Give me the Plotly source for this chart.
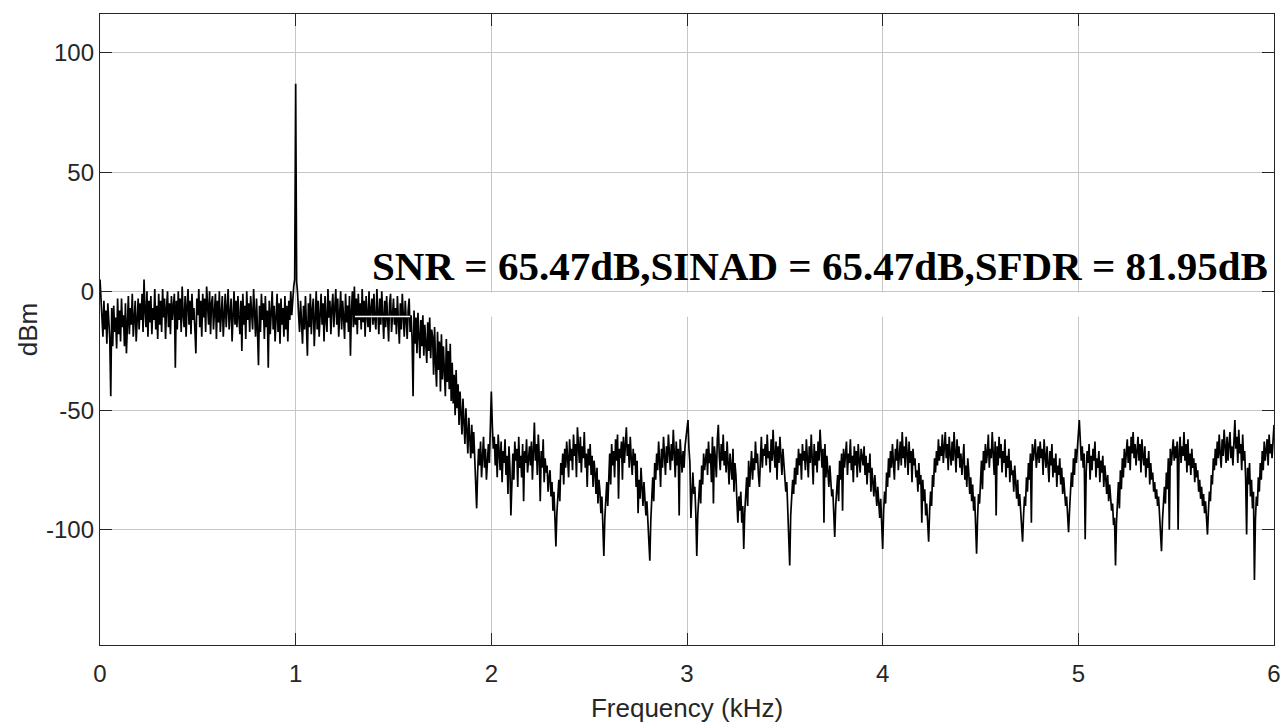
import plotly.graph_objects as go

# Each row holds the FFT bins of one 0.1 kHz band (5 Hz bins), starting at row_index * 0.1 kHz.
row_span_khz = 0.1

# 0.0 - 1.6 kHz : flat pass band with the 1 kHz test tone
passband_rows = [
    [5, -2, -12, -19, -4, -16, -8, -22, -5, -14, -20, -44, -7, -23, -6, -17, -11, -24, -3, -18],
    [-8, -21, -3, -15, -10, -23, -5, -26, -12, -2, -18, -7, -14, -1, -19, -9, -4, -21, -13, -3],
    [-16, -5, -12, -1, -17, 5, -8, -15, 0, -19, -4, -13, -2, -18, -7, -12, 1, -16, -6, -20],
    [-1, -14, -4, -17, 1, -11, -3, -20, -7, 0, -15, -5, -18, -2, -12, -8, -1, -32, -4, -16],
    [0, -12, -3, -17, 2, -10, -15, -2, -19, -6, 1, -14, -4, -18, -1, -12, -7, -16, -26, -3],
    [-10, 1, -15, -4, -19, -1, -11, -3, -17, 2, -7, -14, 0, -18, -5, -2, -16, -8, -1, -20],
    [-4, -13, 0, -17, -7, -2, -19, -9, -1, -15, -5, 1, -16, -8, -3, -21, -6, 0, -14, -4],
    [-15, -2, -11, -18, -4, -25, -1, -14, -6, -20, 0, -12, -5, -17, -2, -10, -16, 1, -11, -19],
    [-3, -14, -31, -6, -17, -1, -12, -5, -20, -2, -15, -8, -32, -4, -18, -9, 0, -16, -6, -21],
    [-12, -1, -17, -5, -22, -3, -14, -7, -19, -2, -16, -6, -21, -4, -12, 0, -10, -3, 2, 5],
    [87, 4, -1, -10, -17, -4, -14, -22, -6, -16, -2, -20, -27, -5, -15, -1, -18, -8, -3, -23],
    [-9, 0, -16, -4, -19, -8, -1, -14, -5, -21, -2, -12, -17, 1, -11, -4, -18, -7, -1, -15],
    [-6, 1, -14, -3, -19, -8, 0, -16, -4, -11, -20, -1, -13, -6, -17, -2, -27, -8, 0, -15],
    [2, -14, -3, -18, -1, -12, -5, -16, 1, -13, -4, -19, -2, -10, -15, 0, -17, -7, -3, -14],
    [-1, -12, -16, 1, -7, -18, -3, -14, 0, -10, -20, -4, -15, -2, -13, -21, -5, -1, -17, -9],
    [-3, -14, -7, -18, -2, -12, -22, -5, -16, -1, -11, -19, -4, -15, -20, -8, -3, -17, -10, -20],
]

# 1.6 - 2.0 kHz : filter roll-off
rolloff_rows = [
    [-44, -8, -22, -11, -26, -9, -19, -28, -12, -23, -10, -27, -14, -20, -30, -13, -25, -11, -28, -16],
    [-19, -35, -15, -30, -40, -17, -33, -21, -42, -18, -37, -23, -31, -44, -20, -38, -25, -41, -22, -46],
    [-30, -47, -35, -52, -33, -49, -39, -56, -42, -51, -60, -45, -54, -64, -49, -59, -68, -53, -62, -70],
    [-56, -68, -59, -71, -80, -91, -76, -66, -73, -63, -78, -68, -61, -74, -66, -79, -70, -64, -72, -55],
]

# 2.0 - 6.0 kHz : stop band with periodic nulls
stopband_rows = [
    [-42, -56, -66, -61, -73, -64, -78, -60, -70, -75, -63, -80, -67, -72, -62, -77, -69, -85, -65, -74],
    [-94, -76, -68, -79, -63, -71, -66, -82, -61, -74, -69, -78, -64, -88, -67, -72, -62, -76, -70, -65],
    [-73, -63, -79, -66, -55, -71, -64, -77, -60, -69, -88, -67, -74, -62, -80, -70, -76, -73, -84, -78],
    [-75, -86, -80, -92, -84, -95, -107, -93, -85, -79, -88, -72, -77, -68, -81, -66, -74, -63, -70, -78],
    [-62, -71, -66, -75, -60, -69, -64, -78, -57, -67, -72, -61, -76, -65, -70, -59, -74, -68, -82, -66],
    [-73, -64, -77, -69, -82, -71, -76, -85, -74, -89, -79, -84, -93, -86, -98, -111, -95, -87, -80, -90],
    [-76, -68, -81, -64, -73, -67, -78, -62, -71, -60, -87, -66, -70, -63, -79, -61, -72, -65, -57, -69],
    [-64, -74, -61, -70, -77, -66, -73, -68, -82, -71, -93, -79, -87, -74, -83, -90, -80, -86, -94, -88],
    [-97, -102, -113, -96, -85, -78, -88, -72, -79, -68, -75, -63, -71, -82, -66, -74, -61, -70, -77, -65],
    [-72, -60, -69, -75, -64, -71, -58, -68, -78, -63, -73, -66, -94, -62, -70, -76, -67, -74, -65, -61],
    [-60, -54, -66, -72, -95, -80, -76, -85, -82, -93, -111, -94, -86, -79, -89, -73, -81, -68, -75, -70],
    [-66, -77, -63, -72, -68, -80, -61, -89, -65, -70, -78, -62, -56, -69, -75, -64, -71, -60, -73, -67],
    [-76, -63, -70, -81, -68, -74, -79, -66, -84, -72, -77, -88, -97, -86, -92, -84, -97, -90, -108, -93],
    [-86, -78, -90, -71, -82, -74, -67, -79, -70, -75, -63, -72, -68, -77, -82, -71, -61, -74, -66, -69],
    [-64, -73, -60, -70, -67, -76, -62, -71, -58, -68, -74, -63, -79, -65, -72, -61, -69, -77, -66, -73],
    [-78, -84, -80, -91, -96, -115, -94, -87, -79, -85, -74, -81, -70, -77, -66, -73, -68, -79, -64, -71],
    [-67, -75, -62, -70, -78, -65, -72, -60, -69, -81, -64, -73, -67, -76, -63, -71, -58, -68, -74, -66],
    [-97, -64, -78, -69, -75, -82, -73, -80, -86, -83, -92, -103, -90, -84, -77, -88, -71, -79, -68, -92],
    [-66, -74, -70, -63, -77, -68, -72, -62, -75, -69, -80, -65, -73, -67, -78, -64, -71, -76, -66, -70],
    [-73, -65, -77, -69, -81, -72, -76, -68, -84, -74, -79, -86, -77, -83, -90, -82, -88, -95, -87, -99],
    [-108, -92, -84, -89, -76, -82, -70, -78, -67, -74, -64, -72, -79, -66, -71, -62, -75, -69, -63, -73],
    [-59, -70, -65, -74, -61, -68, -77, -63, -72, -67, -80, -66, -73, -70, -78, -75, -84, -72, -81, -77],
    [-97, -79, -88, -83, -94, -89, -97, -105, -92, -84, -90, -77, -82, -70, -76, -67, -73, -62, -71, -65],
    [-69, -60, -72, -66, -59, -70, -64, -75, -61, -68, -73, -63, -71, -59, -67, -76, -62, -70, -65, -74],
    [-68, -77, -71, -64, -79, -73, -82, -70, -76, -85, -78, -88, -81, -92, -86, -96, -110, -95, -85, -89],
    [-78, -71, -83, -67, -75, -64, -72, -68, -60, -74, -66, -70, -59, -69, -77, -63, -94, -65, -73, -61],
    [-70, -64, -76, -67, -72, -62, -78, -69, -74, -66, -80, -71, -77, -75, -84, -73, -81, -87, -79, -90],
    [-85, -93, -98, -105, -94, -86, -90, -78, -84, -72, -79, -68, -97, -64, -71, -67, -62, -74, -69, -65],
    [-72, -63, -70, -66, -77, -62, -69, -74, -65, -71, -80, -67, -73, -64, -78, -70, -76, -68, -82, -73],
    [-77, -70, -81, -74, -85, -78, -83, -90, -86, -94, -101, -92, -84, -76, -82, -70, -77, -66, -72, -63],
    [-60, -54, -64, -71, -65, -74, -68, -104, -76, -67, -72, -64, -79, -69, -75, -66, -71, -63, -78, -70],
    [-74, -67, -80, -71, -76, -69, -82, -73, -78, -85, -77, -88, -81, -86, -92, -89, -98, -95, -115, -97],
    [-88, -80, -91, -75, -83, -70, -78, -66, -74, -69, -62, -72, -65, -75, -61, -68, -59, -70, -64, -73],
    [-66, -61, -71, -64, -76, -62, -69, -73, -65, -78, -70, -74, -67, -81, -72, -79, -76, -84, -80, -87],
    [-83, -90, -86, -95, -99, -109, -96, -88, -82, -89, -76, -83, -70, -100, -66, -73, -68, -62, -71, -65],
    [-70, -63, -100, -67, -61, -72, -65, -69, -59, -71, -64, -76, -62, -73, -68, -77, -66, -74, -70, -80],
    [-72, -78, -75, -84, -79, -87, -82, -90, -85, -93, -88, -96, -102, -92, -84, -88, -77, -81, -70, -75],
    [-66, -73, -63, -70, -60, -68, -74, -62, -69, -58, -67, -72, -61, -71, -64, -59, -70, -65, -73, -60],
    [-54, -66, -61, -72, -58, -68, -64, -75, -60, -71, -67, -78, -102, -74, -81, -72, -86, -79, -91, -84],
    [-121, -96, -86, -90, -78, -84, -72, -79, -67, -75, -63, -71, -66, -62, -73, -60, -68, -64, -70, -61],
]

# last bin, exactly at 6 kHz
end_level_dbm = -56

freq_khz, level_dbm = [], []
for r, row in enumerate(passband_rows + rolloff_rows + stopband_rows):
    for k, v in enumerate(row):
        freq_khz.append(r * row_span_khz + k * row_span_khz / len(row))
        level_dbm.append(v)
freq_khz.append(6.0)
level_dbm.append(end_level_dbm)

x_ticks = [0, 1, 2, 3, 4, 5, 6]
y_ticks = [-100, -50, 0, 50, 100]
y_tick_text = ["-100", "-50", "0", "50", "100"]

metrics_text = "SNR = 65.47dB,SINAD = 65.47dB,SFDR = 81.95dB"

axis_color = "#262626"
grid_color = "#c6c6c6"
sans = "Liberation Sans, Arial, Helvetica, sans-serif"
serif = "Liberation Serif, Times New Roman, serif"

fig = go.Figure()
fig.add_trace(go.Scatter(
    x=freq_khz, y=level_dbm, mode="lines",
    line=dict(color="black", width=1.7),
    showlegend=False, hoverinfo="x+y",
))

common_axis = dict(
    showline=True, linecolor=axis_color, linewidth=1.3, mirror="ticks",
    ticks="inside", ticklen=12, tickwidth=1.3, tickcolor=axis_color,
    showgrid=True, gridcolor=grid_color, gridwidth=1, zeroline=False,
    tickfont=dict(family=sans, size=24, color=axis_color),
    automargin=False,
)

fig.update_xaxes(
    range=[0, 6], tickvals=x_ticks, ticklabelstandoff=7,
    title=dict(text="Frequency (kHz)", font=dict(family=sans, size=26, color=axis_color), standoff=14),
    **common_axis,
)
fig.update_yaxes(
    range=[-148.3, 116.3], tickvals=y_ticks, ticktext=y_tick_text,
    title=dict(text="dBm", font=dict(family=sans, size=26, color=axis_color), standoff=0),
    **common_axis,
)

# white label backing above the grid, behind the spectrum
fig.add_shape(type="rect", xref="x", yref="y", x0=1.303, x1=5.985, y0=-10.7, y1=-0.5,
              fillcolor="white", line=dict(width=0), layer="between")
fig.add_shape(type="line", xref="x", yref="y", x0=1.303, x1=1.585, y0=-10.5, y1=-10.5,
              line=dict(color="white", width=1.5), layer="above")

fig.add_annotation(
    x=1.38, y=10.5, xref="x", yref="y", xanchor="left", yanchor="middle",
    text=metrics_text, showarrow=False,
    font=dict(family=serif, size=41, color="black", weight="bold"),
)

fig.update_layout(
    width=1285, height=723,
    margin=dict(l=100, r=11, t=14, b=78),
    paper_bgcolor="white", plot_bgcolor="white",
)

fig.write_html("out.html")
